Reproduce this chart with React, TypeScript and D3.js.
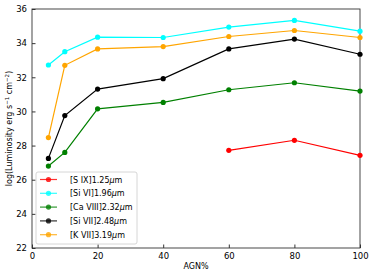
import React, { useRef, useEffect } from 'react';
import * as d3 from 'd3';

// Data
const agn = [5, 10, 20, 40, 60, 80, 100];
const sIX = [null, null, null, null, 27.72, 28.31, 27.43];
const siVI = [32.72, 33.5, 34.35, 34.33, 34.94, 35.33, 34.7];
const caVIII = [26.8, 27.6, 30.15, 30.53, 31.27, 31.68, 31.19];
const siVII = [27.25, 29.76, 31.31, 31.92, 33.66, 34.24, 33.35];
const kVII = [28.47, 32.7, 33.66, 33.8, 34.39, 34.74, 34.33];

const seriesNames = ['[S IX]1.25', '[Si VI]1.96', '[Ca VIII]2.32', '[Si VII]2.48', '[K VII]3.19'];
const seriesValues = [sIX, siVI, caVIII, siVII, kVII];
const seriesColors = ['#ff0000', '#00ffff', '#008000', '#000000', '#ffa500'];

const xTicks = [0, 20, 40, 60, 80, 100];
const yTicks = [22, 24, 26, 28, 30, 32, 34, 36];

const App = () => {
  const ref = useRef<SVGSVGElement | null>(null);

  useEffect(() => {
    const svg = d3.select(ref.current);
    svg.selectAll('*').remove();
    const font = 'DejaVu Sans, sans-serif';
    const margin = { top: 9, right: 14, bottom: 28, left: 32 };
    const width = 374;
    const height = 276;

    const x = d3.scaleLinear().domain([0, 100]).range([margin.left, width - margin.right]);
    const y = d3.scaleLinear().domain([22, 36]).range([height - margin.bottom, margin.top]);

    // axes with inward ticks
    const xAxis = svg.append('g')
      .attr('transform', `translate(0,${height - margin.bottom})`)
      .call(d3.axisBottom(x).tickValues(xTicks).tickSizeInner(-3.5).tickSizeOuter(0).tickPadding(5));
    const yAxis = svg.append('g')
      .attr('transform', `translate(${margin.left},0)`)
      .call(d3.axisLeft(y).tickValues(yTicks).tickSizeInner(-3.5).tickSizeOuter(0).tickPadding(5));
    [xAxis, yAxis].forEach(a => {
      a.selectAll('text').attr('font-family', font).attr('font-size', 8.5).attr('fill', '#000');
      a.selectAll('.domain').remove();
      a.selectAll('.tick line').attr('stroke', '#000').attr('stroke-width', 0.8);
    });

    // frame
    svg.append('rect')
      .attr('x', margin.left)
      .attr('y', margin.top)
      .attr('width', width - margin.left - margin.right)
      .attr('height', height - margin.top - margin.bottom)
      .attr('fill', 'none')
      .attr('stroke', '#333')
      .attr('stroke-width', 0.9);

    // lines
    const line = d3.line<number | null>()
      .defined(d => d !== null)
      .x((d, i) => x(agn[i]))
      .y(d => y(d as number));

    seriesValues.forEach((vals, k) => {
      svg.append('path')
        .datum(vals)
        .attr('d', line)
        .attr('fill', 'none')
        .attr('stroke', seriesColors[k])
        .attr('stroke-width', 1.2);
      svg.append('g')
        .selectAll('circle')
        .data(vals.map((v, i) => ({ v, a: agn[i] })).filter(d => d.v !== null))
        .enter()
        .append('circle')
        .attr('cx', d => x(d.a))
        .attr('cy', d => y(d.v as number))
        .attr('r', 2.6)
        .attr('fill', seriesColors[k]);
    });

    // axis labels
    svg.append('text')
      .attr('x', (margin.left + width - margin.right) / 2)
      .attr('y', 269)
      .attr('text-anchor', 'middle')
      .attr('font-family', font)
      .attr('font-size', 8)
      .text('AGN%');

    const yl = svg.append('text')
      .attr('transform', `translate(12,${(margin.top + height - margin.bottom) / 2}) rotate(-90)`)
      .attr('text-anchor', 'middle')
      .attr('font-family', font)
      .attr('font-size', 8);
    yl.append('tspan').text('log(Luminosity erg s');
    yl.append('tspan').attr('dy', -3).attr('font-size', 5.5).text('−1');
    yl.append('tspan').attr('dy', 3).text(' cm');
    yl.append('tspan').attr('dy', -3).attr('font-size', 5.5).text('−2');
    yl.append('tspan').attr('dy', 3).text(')');

    // legend
    const lg = svg.append('g').attr('transform', 'translate(36,172)');
    lg.append('rect')
      .attr('width', 101)
      .attr('height', 72)
      .attr('rx', 2)
      .attr('fill', '#fff')
      .attr('fill-opacity', 0.8)
      .attr('stroke', '#ccc')
      .attr('stroke-width', 0.8);
    seriesNames.forEach((name, k) => {
      const cy = 7.5 + k * 13.8;
      lg.append('line')
        .attr('x1', 4).attr('x2', 21)
        .attr('y1', cy).attr('y2', cy)
        .attr('stroke', seriesColors[k])
        .attr('stroke-opacity', 0.8)
        .attr('stroke-width', 1.2);
      lg.append('circle')
        .attr('cx', 12.5).attr('cy', cy).attr('r', 2.6)
        .attr('fill', seriesColors[k])
        .attr('fill-opacity', 0.8);
      const t = lg.append('text')
        .attr('x', 34)
        .attr('y', cy + 3)
        .attr('font-family', font)
        .attr('font-size', 8);
      t.append('tspan').text(name);
      t.append('tspan').attr('font-style', 'italic').text('μ');
      t.append('tspan').text('m');
    });
  }, []);

  return (
    <svg ref={ref} width={374} height={276} style={{ position: 'absolute', left: 0, top: 0, background: '#fff' }} />
  );
};

export default App;
